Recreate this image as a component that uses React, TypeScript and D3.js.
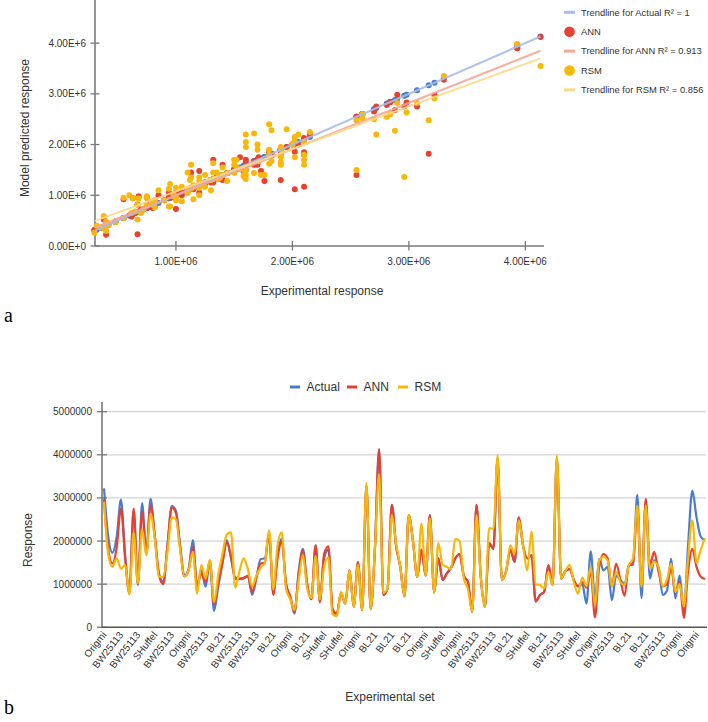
import React from "react";
import * as d3 from "d3";

// ---- Data (values in millions) ----
const actualM = [
  3.22, 2.1, 1.73, 2.1, 2.96, 1.67, 0.82, 2.72, 0.98, 2.88, 1.71, 2.98, 2.1, 1.25, 1.05, 1.9, 2.81, 2.7, 1.9, 1.19,
  1.36, 2.02, 0.94, 1.32, 0.94, 1.52, 0.38, 0.95, 1.5, 2.02, 1.6, 1.15, 1.12, 1.13, 1.2, 0.75, 1.15, 1.58, 1.6, 2.15,
  0.8, 1.7, 2.05, 1.0, 0.7, 0.32, 1.3, 1.82, 1.0, 0.65, 1.9, 0.62, 1.6, 1.8, 0.4, 0.3, 0.8, 0.55, 1.32, 0.48,
  1.5, 0.4, 3.3, 0.42, 1.8, 4.13, 0.75, 0.9, 2.84, 1.9, 1.4, 0.72, 2.6, 2.0, 1.17, 1.8, 1.2, 2.6, 0.81, 1.6,
  1.1, 1.25, 1.38, 1.6, 1.7, 1.2, 1.05, 0.36, 2.84, 1.2, 0.48, 1.95, 1.82, 3.93, 1.1, 1.3, 1.8, 1.52, 2.55, 1.9,
  1.6, 1.67, 0.6, 0.75, 0.82, 1.44, 0.98, 3.93, 1.13, 1.3, 1.35, 1.1, 0.95, 1.0, 0.55, 1.76, 0.67, 1.59, 1.32, 1.4,
  0.63, 1.2, 1.1, 1.0, 1.44, 1.5, 3.07, 0.68, 2.9, 1.13, 1.55, 1.4, 0.75, 0.85, 1.59, 0.67, 1.2, 0.4, 1.9, 3.17,
  2.55, 2.1, 2.02,
];
const annM = [
  2.97, 1.8, 1.48, 1.85, 2.75, 1.6, 0.78, 2.75, 1.0, 2.68, 1.75, 2.83, 2.13, 1.2, 1.0, 1.9, 2.78, 2.65, 1.82, 1.18,
  1.32, 1.86, 0.98, 1.25, 1.05, 1.55, 0.52, 1.02, 1.5, 1.98, 1.65, 1.12, 1.13, 1.15, 1.18, 0.82, 1.15, 1.48, 1.5, 2.2,
  0.75, 1.6, 2.0, 1.02, 0.72, 0.36, 1.25, 1.78, 1.0, 0.65, 1.9, 0.58, 1.7, 1.88, 0.42, 0.32, 0.8, 0.55, 1.32, 0.48,
  1.52, 0.4, 3.28, 0.42, 1.8, 4.12, 0.75, 0.9, 2.84, 1.9, 1.4, 0.72, 2.6, 2.0, 1.17, 1.8, 1.2, 2.6, 0.81, 1.6,
  1.1, 1.25, 1.38, 1.6, 1.7, 1.2, 1.05, 0.36, 2.84, 1.2, 0.48, 1.95, 1.82, 3.9, 1.1, 1.3, 1.8, 1.52, 2.55, 1.9,
  1.6, 1.67, 0.6, 0.75, 0.82, 1.44, 0.98, 3.9, 1.13, 1.3, 1.35, 1.1, 0.95, 1.05, 0.92, 1.28, 0.23, 1.4, 1.7, 1.6,
  0.94, 1.48, 1.1, 0.73, 1.44, 1.45, 2.75, 0.98, 2.98, 1.45, 1.75, 1.3, 0.95, 1.0, 1.36, 0.82, 1.05, 0.22, 1.3, 1.82,
  1.4, 1.17, 1.12,
];
const rsmM = [
  2.91, 1.7, 1.4, 1.6, 1.36, 1.44, 0.76, 2.2, 1.02, 2.27, 1.67, 2.63, 2.05, 1.17, 1.17, 1.75, 2.55, 2.5, 1.78, 1.18,
  1.32, 1.75, 0.78, 1.45, 1.13, 1.55, 0.59, 1.22, 1.7, 2.15, 2.2, 0.92, 1.3, 1.6, 1.35, 0.95, 1.2, 1.38, 1.5, 2.25,
  0.88, 1.9, 2.2, 0.9, 0.65, 0.4, 1.1, 1.67, 0.9, 0.68, 1.65, 0.65, 1.4, 1.62, 0.3, 0.26, 0.82, 0.55, 1.32, 0.48,
  1.45, 0.4, 3.35, 0.42, 1.8, 3.55, 0.8, 0.9, 2.6, 1.95, 1.4, 0.72, 2.6, 2.0, 1.17, 2.4, 1.2, 2.52, 0.81, 1.95,
  1.45, 1.4, 1.35, 2.05, 2.0, 1.15, 0.88, 0.36, 2.6, 1.2, 0.48, 2.3, 2.28, 3.98, 1.1, 1.3, 1.9, 1.7, 2.48, 1.9,
  1.32, 2.22, 1.0, 0.98, 0.9, 1.28, 0.98, 3.98, 1.13, 1.3, 1.45, 1.05, 0.78, 1.15, 0.95, 1.4, 0.52, 1.55, 1.63, 1.55,
  0.94, 1.28, 1.05, 0.98, 1.44, 1.6, 2.82, 0.94, 2.82, 1.35, 1.52, 1.4, 0.95, 1.1, 1.48, 0.82, 1.0, 0.48, 1.6, 2.48,
  1.5, 1.8, 2.07,
];
const actual = actualM.map((v) => v * 1e6);
const ann = annM.map((v) => v * 1e6);
const rsm = rsmM.map((v) => v * 1e6);

const setLabels = [
  "Origmi", "BW25113", "BW25113", "SHuffel", "BW25113", "Origmi", "BW25113", "BL21", "BW25113", "BW25113",
  "BL21", "Origmi", "BL21", "SHuffel", "SHuffel", "Origmi", "BL21", "BL21", "BL21", "Origmi",
  "SHuffel", "Origmi", "BW25113", "BW25113", "BL21", "SHuffel", "BL21", "BW25113", "SHuffel", "Origmi",
  "BW25113", "BL21", "BL21", "BW25113", "Origmi", "Origmi",
];
const labelStep = 4;

const trendNames = ["Actual", "ANN", "RSM"];
const trendSlopes = [1, 0.911, 0.838];
const trendIntercepts = [0, 0.087e6, 0.239e6];
const trendR2 = ["1", "0.913", "0.856"];

const scatterYTicks = [0, 1e6, 2e6, 3e6, 4e6];
const scatterYTickLabels = ["0.00E+0", "1.00E+6", "2.00E+6", "3.00E+6", "4.00E+6"];
const scatterXTicks = [1e6, 2e6, 3e6, 4e6];
const scatterXTickLabels = ["1.00E+06", "2.00E+06", "3.00E+06", "4.00E+06"];
const lineYTicks = [0, 1e6, 2e6, 3e6, 4e6, 5e6];
const lineYTickLabels = ["0", "1000000", "2000000", "3000000", "4000000", "5000000"];

const BLUE = "#4a7bd0";
const RED = "#e8412f";
const YELLOW = "#f8b80a";
const TBLUE = "#a9bde8";
const TRED = "#f4a898";
const TYELLOW = "#fcd98a";
const FONT = "'Liberation Sans', Arial, sans-serif";
const AXIS = "#7a7a7a";
const TEXT = "#333";

export default function App() {
  // ---- Scatter (a) ----
  const xS = d3.scaleLinear().domain([0.305e6, 4.16e6]).range([95, 544]);
  const yS = d3.scaleLinear().domain([0, 4.85e6]).range([246, 0]);
  const xMaxData = d3.max(actual) as number;
  const trendColors = [TBLUE, TRED, TYELLOW];

  // ---- Line chart (b) ----
  const N = actual.length;
  const xB = d3.scaleLinear().domain([0, N - 1]).range([104, 705]);
  const yB = d3.scaleLinear().domain([0, 5e6]).range([627.3, 411.7]);
  const line = d3
    .line<number>()
    .x((_, i) => xB(i))
    .y((d) => yB(d))
    .curve(d3.curveMonotoneX);

  const legendTop = [
    { kind: "line", color: TBLUE, text: `Trendline for ${trendNames[0]} R\u00b2 = ${trendR2[0]}` },
    { kind: "dot", color: RED, text: "ANN" },
    { kind: "line", color: TRED, text: `Trendline for ${trendNames[1]} R\u00b2 = ${trendR2[1]}` },
    { kind: "dot", color: YELLOW, text: "RSM" },
    { kind: "line", color: TYELLOW, text: `Trendline for ${trendNames[2]} R\u00b2 = ${trendR2[2]}` },
  ];

  const legendBottom = [
    { color: BLUE, text: "Actual", x: 290 },
    { color: RED, text: "ANN", x: 347 },
    { color: YELLOW, text: "RSM", x: 398 },
  ];

  return (
    <svg
      width={708}
      height={722}
      style={{ position: "absolute", left: 0, top: 0, background: "#fff" }}
      fontFamily={FONT}
    >
      <rect width={708} height={722} fill="#fff" />
      {/* ================= (a) scatter ================= */}
      <line x1={95} x2={95} y1={0} y2={246} stroke={AXIS} strokeWidth={1.6} />
      <line x1={95} x2={544} y1={246} y2={246} stroke={AXIS} strokeWidth={1.6} />
      {scatterYTicks.map((t, i) => (
        <g key={"syt" + i}>
          <line x1={90.5} x2={99.5} y1={yS(t)} y2={yS(t)} stroke={AXIS} strokeWidth={1.3} />
          <text x={86} y={yS(t)} dy="0.35em" textAnchor="end" fontSize={10} fill={TEXT}>
            {scatterYTickLabels[i]}
          </text>
        </g>
      ))}
      {scatterXTicks.map((t, i) => (
        <g key={"sxt" + i}>
          <line x1={xS(t)} x2={xS(t)} y1={241} y2={250.5} stroke={AXIS} strokeWidth={1.3} />
          <text x={xS(t)} y={265} textAnchor="middle" fontSize={10} fill={TEXT}>
            {scatterXTickLabels[i]}
          </text>
        </g>
      ))}
      <text x={322} y={295} textAnchor="middle" fontSize={12} fill={TEXT}>
        Experimental response
      </text>
      <text transform={`translate(29,128) rotate(-90)`} textAnchor="middle" fontSize={12} fill={TEXT}>
        Model predicted response
      </text>

      {actual.map((a, i) => (
        <circle key={"pa" + i} cx={xS(a)} cy={yS(a)} r={3} fill={BLUE} />
      ))}
      {actual.map((a, i) => (
        <circle key={"pn" + i} cx={xS(a)} cy={yS(ann[i])} r={3} fill={RED} />
      ))}
      {actual.map((a, i) => (
        <circle key={"pr" + i} cx={xS(a)} cy={yS(rsm[i])} r={3} fill={YELLOW} />
      ))}
      {trendSlopes.map((m, k) => {
        const x0 = xS.domain()[0];
        const x1 = xMaxData;
        return (
          <line
            key={"tr" + k}
            x1={xS(x0)}
            y1={yS(m * x0 + trendIntercepts[k])}
            x2={xS(x1)}
            y2={yS(m * x1 + trendIntercepts[k])}
            stroke={trendColors[k]}
            strokeWidth={2}
            opacity={0.9}
          />
        );
      })}

      {legendTop.map((it, i) => {
        const y = 12.3 + i * 19.4;
        return (
          <g key={"lt" + i}>
            {it.kind === "line" ? (
              <line x1={564} x2={575} y1={y} y2={y} stroke={it.color} strokeWidth={3} />
            ) : (
              <circle cx={569.5} cy={y} r={5.3} fill={it.color} />
            )}
            <text x={581} y={y} dy="0.35em" fontSize={9.4} fill={TEXT}>
              {it.text}
            </text>
          </g>
        );
      })}

      <text x={4} y={322} fontFamily="'Liberation Serif', 'Times New Roman', serif" fontSize={20} fill="#000">
        a
      </text>

      {/* ================= (b) line chart ================= */}
      {legendBottom.map((it, i) => (
        <g key={"lb" + i}>
          <rect x={it.x} y={385.5} width={10} height={3} fill={it.color} />
          <text x={it.x + 16.5} y={387} dy="0.35em" fontSize={12} fill={TEXT}>
            {it.text}
          </text>
        </g>
      ))}
      {lineYTicks.map((t, i) => (
        <g key={"gl" + i}>
          {i > 0 && <line x1={102} x2={706} y1={yB(t)} y2={yB(t)} stroke="#d4d4d4" strokeWidth={1.2} />}
          <line x1={97} x2={107} y1={yB(t)} y2={yB(t)} stroke={AXIS} strokeWidth={1.3} />
          <text x={92} y={yB(t)} dy="0.35em" textAnchor="end" fontSize={10} fill={TEXT}>
            {lineYTickLabels[i]}
          </text>
        </g>
      ))}
      <line x1={102} x2={102} y1={402} y2={627.3} stroke={AXIS} strokeWidth={1.6} />
      <line x1={102} x2={707} y1={627.3} y2={627.3} stroke="#555" strokeWidth={1.6} />

      <path d={line(actual) || ""} fill="none" stroke={BLUE} strokeWidth={2.2} />
      <path d={line(ann) || ""} fill="none" stroke={RED} strokeWidth={2.2} />
      <path d={line(rsm) || ""} fill="none" stroke={YELLOW} strokeWidth={2.2} />

      {setLabels.map((lab, k) => (
        <text
          key={"xl" + k}
          transform={`translate(${xB(k * labelStep) + 3},${635}) rotate(-52)`}
          textAnchor="end"
          fontSize={10}
          fill={TEXT}
        >
          {lab}
        </text>
      ))}
      <text x={390} y={701} textAnchor="middle" fontSize={12} fill={TEXT}>
        Experimental set
      </text>
      <text transform={`translate(32,540) rotate(-90)`} textAnchor="middle" fontSize={12} fill={TEXT}>
        Response
      </text>

      <text x={4} y={714} fontFamily="'Liberation Serif', 'Times New Roman', serif" fontSize={20} fill="#000">
        b
      </text>
    </svg>
  );
}
